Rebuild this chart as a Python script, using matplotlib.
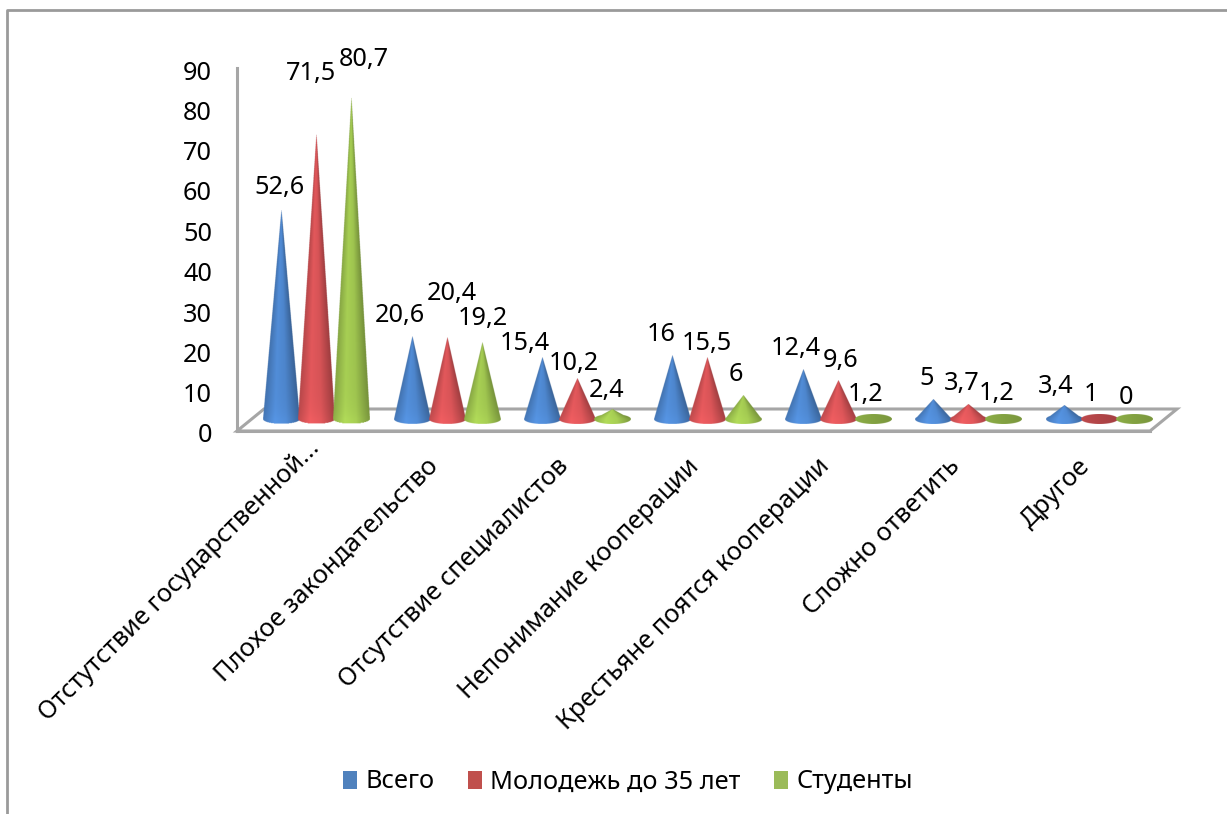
import numpy as np
import matplotlib
matplotlib.use('Agg')
import matplotlib.pyplot as plt
from matplotlib.lines import Line2D
from matplotlib.patches import Patch, Polygon
from matplotlib.transforms import ScaledTranslation

categories = ['Отстутствие государственной...', 'Плохое закондательство',
              'Отсутствие специалистов', 'Непонимание кооперации',
              'Крестьяне поятся кооперации', 'Сложно ответить', 'Другое']
series_names = ['Всего', 'Молодежь до 35 лет', 'Студенты']
vsego = [52.6, 20.6, 15.4, 16, 12.4, 5, 3.4]
molodezh = [71.5, 20.4, 10.2, 15.5, 9.6, 3.7, 1]
studenty = [80.7, 19.2, 2.4, 6, 1.2, 1.2, 0]
y_ticks = [0, 10, 20, 30, 40, 50, 60, 70, 80, 90]

legend_colors = ['#4F81BD', '#C0504D', '#9BBB59']
cone_colors = ['#4A80C4', '#CE5053', '#98BC4C']

# label shift from the cone tip, pixels, (dx, dy) for each series
label_shift = [
    [(-2, 21), (-12, 21), (-17, 14), (-11, 21), (-7, 21), (-7, 21), (-8, 19)],
    [(-5, 60), (5, 44), (-3, 15), (-1, 14), (3, 20), (-7, 21), (-8, 21)],
    [(13, 37), (1, 24), (-6, 19), (-7, 21), (-7, 20), (-7, 21), (-8, 21)],
]

W, H = 1227, 814
GREY = '#A6A6A6'
FONT_PT = 18.2

plt.rcParams['font.family'] = ['Noto Sans', 'DejaVu Sans']

fig = plt.figure(figsize=(W / 100, H / 100), dpi=100)
ax = fig.add_axes([237 / W, (H - 431) / H, 913 / W, 363 / H])
ax.set_xlim(-0.5, 6.5)
ax.set_ylim(0, 90)

# floor depth, in data units
depth_x = 27 / 130.4
depth_y = 22 / 4.033
ax.add_patch(Polygon([(-0.5, 0), (6.5, 0), (6.5 + depth_x, depth_y), (-0.5 + depth_x, depth_y)],
                     closed=True, facecolor='white', edgecolor=GREY, lw=2.2,
                     clip_on=False, zorder=1))


def cone_image(value, color, half_w, half_h, height_scale):
    h = max(value * height_scale, 1e-6)
    top = max(h, half_h)
    xs = np.linspace(-half_w, half_w, 240)
    ys = np.linspace(-half_h, top, 500)
    X, Y = np.meshgrid(xs, ys)
    shrink = np.clip((h - Y) / h, 1e-6, 1)
    u = X / (half_w * shrink)
    side = (np.abs(u) <= 1) & (Y >= 0) & (Y <= h)
    base = (X / half_w) ** 2 + (Y / half_h) ** 2 <= 1
    if value <= 1.2:
        # almost flat cones show as a plain disc
        k = np.interp(X / half_w, [-1, 0, 1], [0.92, 0.86, 0.8])
    else:
        k = np.interp(np.clip(u, -1, 1), [-1, -0.35, 0.25, 1], [0.88, 1.1, 1.04, 0.76])
        k = k * (1 + 0.06 * np.exp(-np.clip(Y, 0, None) / 3))
    rgb = np.array(matplotlib.colors.to_rgb(color))
    img = np.zeros(X.shape + (4,))
    for c in range(3):
        img[..., c] = np.clip(rgb[c] * k, 0, 1)
    img[..., 3] = (side | base).astype(float)
    return img, [-half_w, half_w, -half_h, top]


half_w = 18 / 130.4
half_h = 4.8 / 4.033
step = 35 / 130.4
base_x = 14 / 130.4
base_y = 12 / 4.033
height_scale = 0.99

order = 3
for s, values in enumerate([vsego, molodezh, studenty]):
    for i, v in enumerate(values):
        x = i + base_x + (s - 1) * step
        img, ext = cone_image(v, cone_colors[s], half_w, half_h, height_scale)
        ax.imshow(img[::-1], extent=[x + ext[0], x + ext[1], base_y + ext[2], base_y + ext[3]],
                  aspect='auto', interpolation='antialiased', zorder=order, clip_on=False)
        order += 1
        dx, dy = label_shift[s][i]
        ax.annotate(str(v).replace('.', ','), (x, base_y + v * height_scale),
                    xytext=(dx, dy), textcoords='offset pixels', ha='center', va='center',
                    fontsize=FONT_PT, color='black', zorder=100, annotation_clip=False)

ax.set_xlim(-0.5, 6.5)
ax.set_ylim(0, 90)

ax.set_yticks(y_ticks)
ax.tick_params(axis='y', length=0, pad=18, labelsize=FONT_PT)
ax.set_xticks(range(len(categories)))
ax.set_xticklabels(categories, rotation=45, ha='right', va='top', rotation_mode='anchor',
                   fontsize=FONT_PT)
ax.tick_params(axis='x', length=0, pad=18)

# the shortened first label sits further along its slant
first = ax.get_xticklabels()[0]
first.set_transform(first.get_transform() + ScaledTranslation(0.12, 0.18, fig.dpi_scale_trans))
for lab in ax.get_xticklabels():
    lab.set_transform(lab.get_transform() + ScaledTranslation(-0.07, 0.02, fig.dpi_scale_trans))
for lab in ax.get_yticklabels():
    lab.set_transform(lab.get_transform() + ScaledTranslation(0, -0.02, fig.dpi_scale_trans))

for name in ['top', 'right']:
    ax.spines[name].set_visible(False)
for name in ['left', 'bottom']:
    ax.spines[name].set_color(GREY)
    ax.spines[name].set_linewidth(2.2)
ax.patch.set_alpha(0)

handles = [Patch(facecolor=c, edgecolor='none', label=n) for c, n in zip(legend_colors, series_names)]
fig.legend(handles=handles, loc='center', bbox_to_anchor=(628 / W, (H - 782) / H), ncol=3,
           frameon=False, fontsize=FONT_PT, handlelength=0.56, handleheight=0.7,
           handletextpad=0.34, columnspacing=1.3, borderpad=0)

# outer chart border, cut by the picture edge on the right and bottom
fig.add_artist(Line2D([7 / W, 7 / W, 1], [0, 1 - 9.5 / H, 1 - 9.5 / H], color='#9A9A9A', lw=2))

fig.savefig('out.png', dpi=100)
